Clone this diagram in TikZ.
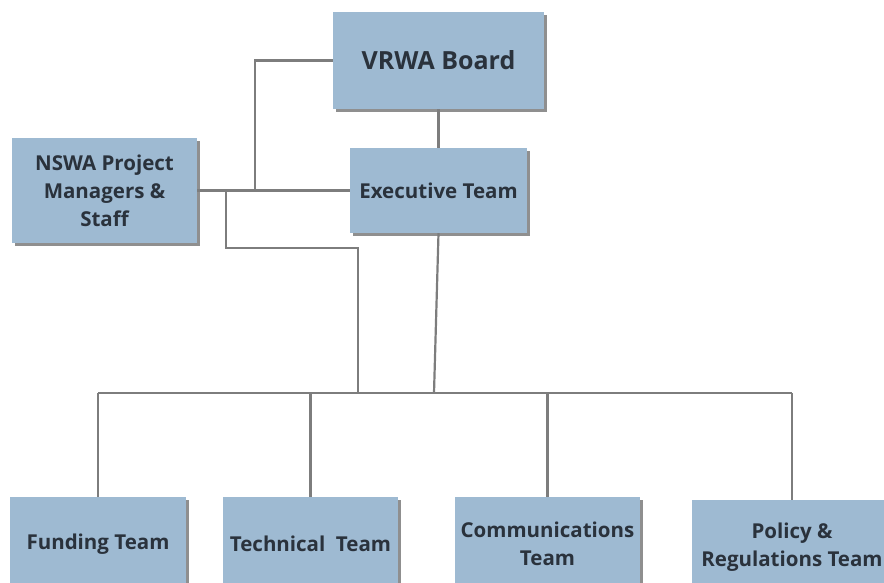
\documentclass[tikz,border=0pt]{standalone}
\usepackage{fontspec}
\setmainfont{Open Sans}
\usetikzlibrary{shadows}
\definecolor{boxblue}{RGB}{158,186,210}
\definecolor{boxtext}{RGB}{42,50,60}
\definecolor{linkgray}{RGB}{125,125,125}
\begin{document}
\begin{tikzpicture}[x=1pt,y=-1pt,
        team/.style={fill=boxblue,draw=none,align=center,text=boxtext,
            font=\fontsize{20.5}{28}\selectfont\bfseries,
            drop shadow={shadow xshift=2.5pt,shadow yshift=-2.5pt,fill=black!55,opacity=0.8}},
        link/.style={draw=linkgray,line width=2.2pt}]
    \useasboundingbox (0,0) rectangle (884,582);
    %% top boxes
    \node[team,minimum width=211pt,minimum height=97pt,font=\fontsize{25}{30}\selectfont\bfseries] (board) at (438.5,60.5) {VRWA Board};
    \node[team,minimum width=177pt,minimum height=85pt] (exec) at (438.5,190.5) {Executive Team};
    \node[team,minimum width=185pt,minimum height=105pt] (nswa) at (104.5,190.5) {NSWA Project\\Managers \&\\Staff};
    %% bottom boxes
    \node[team,minimum width=176pt,minimum height=94pt] (funding) at (98,544) {Funding Team};
    \node[team,minimum width=175pt,minimum height=94pt] (technical) at (310.5,544) {Technical\ \ Team};
    \node[team,minimum width=185pt,minimum height=94pt] (comms) at (547.5,544) {Communications\\Team};
    \node[team,minimum width=200pt,minimum height=94pt] (policy) at (792,547) {Policy \&\\Regulations Team};
    %% links
    \coordinate (boardelbow) at (255,60.5);
    \coordinate (nswadrop) at (226,190.5);
    \coordinate (nswabend) at (358,248);
    \coordinate (busleft) at (98,393);
    \coordinate (busright) at (792,393);
    \draw[link] (board.south) -- (exec.north);
    \draw[link] (board.west) -- (boardelbow) -- (boardelbow |- nswa.east);
    \draw[link] (nswa.east) -- (exec.west);
    \draw[link] (nswadrop) -- (nswadrop |- nswabend) -- (nswabend) -- (nswabend |- busleft);
    \draw[link] (exec.south) -- (434,393);
    \draw[link] (busleft) -- (busright);
    \draw[link] (funding.north) -- (funding.north |- busleft);
    \draw[link] (technical.north) -- (technical.north |- busleft);
    \draw[link] (comms.north) -- (comms.north |- busleft);
    \draw[link] (policy.north) -- (policy.north |- busleft);
\end{tikzpicture}
\end{document}
